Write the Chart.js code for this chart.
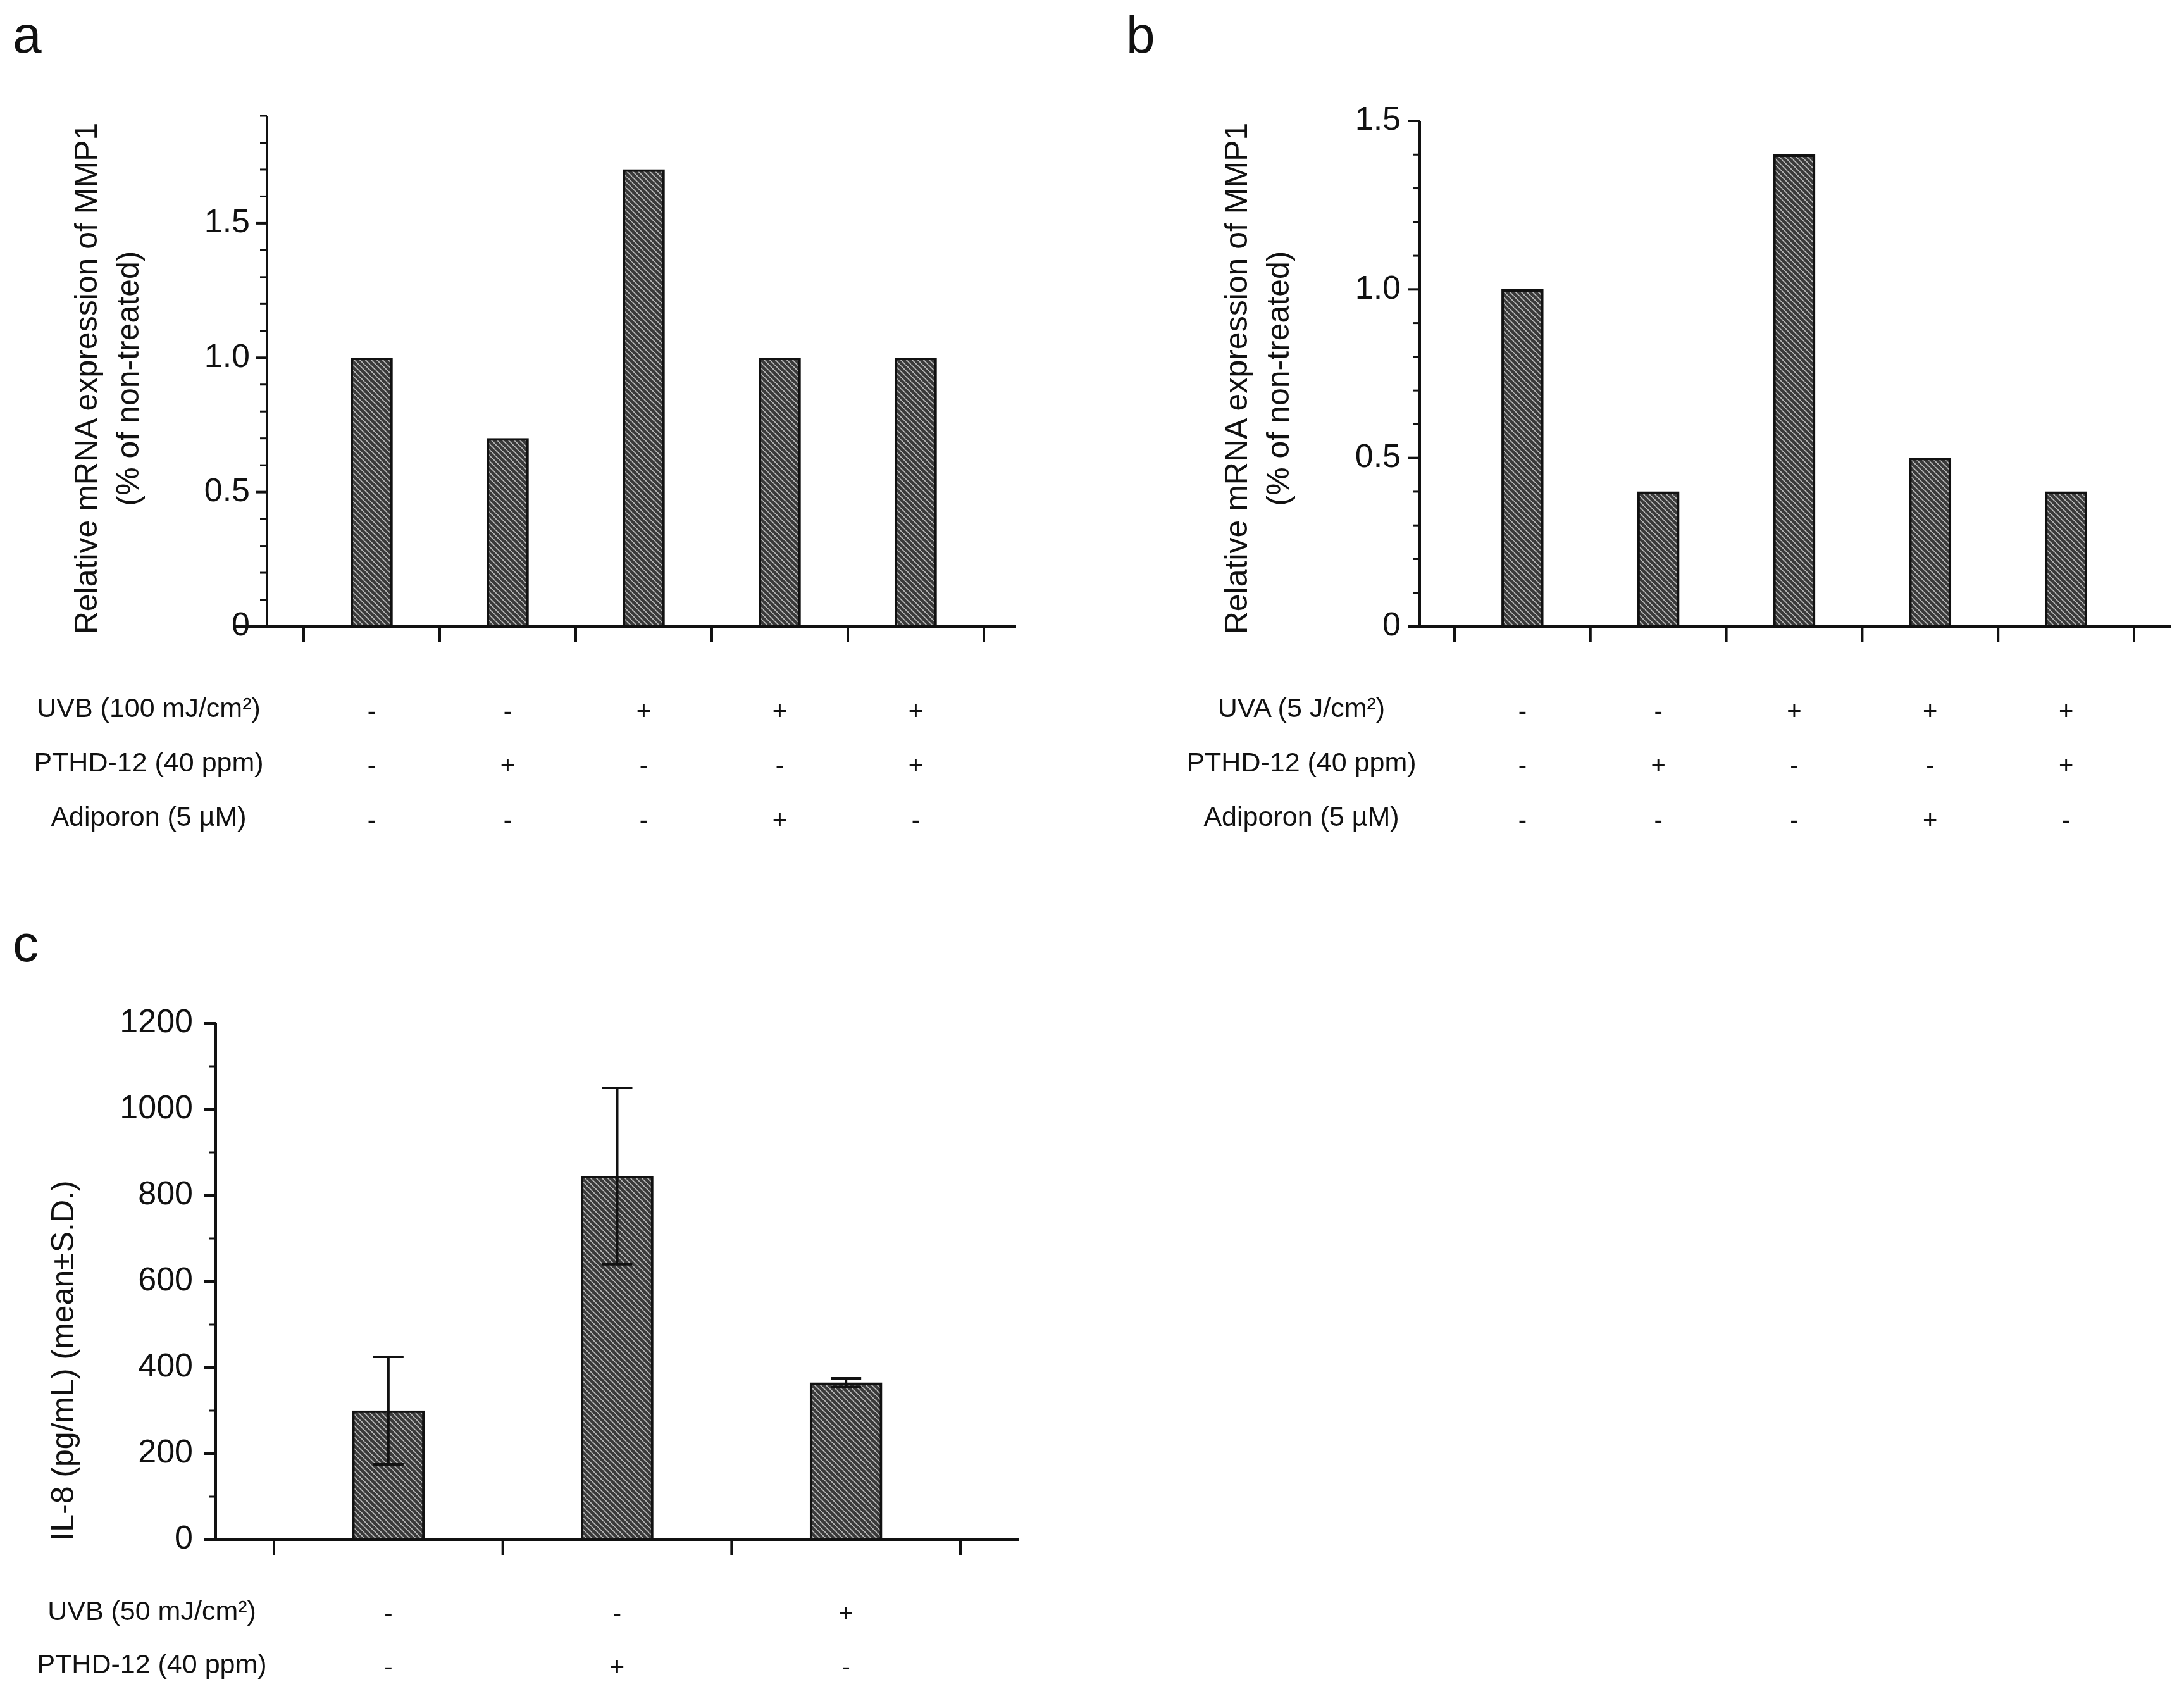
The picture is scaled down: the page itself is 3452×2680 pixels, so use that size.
<!DOCTYPE html>
<html><head><meta charset="utf-8">
<script src="https://cdn.jsdelivr.net/npm/chart.js@4.4.1/dist/chart.umd.min.js"></script>
<style>
body{margin:0;background:#fff;width:3452px;height:2680px;position:relative;overflow:hidden;font-family:"Liberation Sans",Arial,sans-serif;color:#111}
canvas{position:absolute}
.t{position:absolute;white-space:nowrap;transform:translate(-50%,-50%);font-size:43px}
.L{position:absolute;font-size:82px;line-height:1}
.yt{position:absolute;white-space:nowrap;font-size:50px;text-align:center;line-height:66px;transform:translate(-50%,-50%) rotate(-90deg)}
</style></head><body>
<div class="L" style="left:20px;top:14px">a</div>
<div class="L" style="left:1780px;top:14px">b</div>
<div class="L" style="left:20px;top:1450px">c</div>
<div class="yt" style="left:169px;top:598px">Relative mRNA expression of MMP1<br>(% of non-treated)</div>
<div class="yt" style="left:1987px;top:598px">Relative mRNA expression of MMP1<br>(% of non-treated)</div>
<div class="yt" style="left:99px;top:2150px">IL-8 (pg/mL) (mean±S.D.)</div>
<canvas id="ca" style="left:0;top:0" width="1650" height="1350"></canvas>
<canvas id="cb" style="left:1700px;top:0" width="1752" height="1350"></canvas>
<canvas id="cc" style="left:0;top:1450px" width="1700" height="1230"></canvas>
<script>
// ---- data ----
const rowsA = ["UVB (100 mJ/cm²)", "PTHD-12 (40 ppm)", "Adiporon (5 µM)"];
const uvbA = ["-", "-", "+", "+", "+"];
const pthdA = ["-", "+", "-", "-", "+"];
const adipA = ["-", "-", "-", "+", "-"];
const valuesA = [1.0, 0.7, 1.7, 1.0, 1.0];

const rowsB = ["UVA (5 J/cm²)", "PTHD-12 (40 ppm)", "Adiporon (5 µM)"];
const uvaB = ["-", "-", "+", "+", "+"];
const pthdB = ["-", "+", "-", "-", "+"];
const adipB = ["-", "-", "-", "+", "-"];
const valuesB = [1.0, 0.4, 1.4, 0.5, 0.4];

const rowsC = ["UVB (50 mJ/cm²)", "PTHD-12 (40 ppm)"];
const uvbC = ["-", "-", "+"];
const pthdC = ["-", "+", "-"];
const valuesC = [300, 845, 365];
const sdC = [125, 205, 10];

function rowNames(names, cx, y0, step, top){
  names.forEach((n,i)=>{const d=document.createElement('div');d.className='t';d.style.left=cx+'px';d.style.top=(top+y0+i*step)+'px';d.textContent=n;document.body.appendChild(d);});
}
rowNames(rowsA, 235, 1118, 86, 0);
rowNames(rowsB, 2057, 1118, 86, 0);
rowNames(rowsC, 240, 1095, 84, 1450);

function hatch(){
  const c=document.createElement('canvas');c.width=c.height=9;
  const g=c.getContext('2d');g.fillStyle='#3a3a3a';g.fillRect(0,0,9,9);
  g.strokeStyle='#bdbdbd';g.lineWidth=1.6;
  for(let k=-9;k<=9;k+=9){g.beginPath();g.moveTo(k,0);g.lineTo(k+9,9);g.stroke();}
  return g.createPattern(c,'repeat');
}

const framePlugin={id:'frame',afterDraw(chart,args,o){
  const ctx=chart.ctx,a=chart.chartArea,ys=chart.scales.y,xs=chart.scales.x;
  const x0=a.left-o.gap;ctx.save();ctx.strokeStyle='#111';ctx.lineWidth=4;ctx.lineCap='butt';
  ctx.beginPath();ctx.moveTo(x0,ys.getPixelForValue(ys.max));ctx.lineTo(x0,a.bottom);ctx.stroke();
  ctx.beginPath();ctx.moveTo(x0-o.extL,a.bottom);ctx.lineTo(a.right+o.extR,a.bottom);ctx.stroke();
  for(let v=0;v<=ys.max+1e-9;v+=o.minor){
    const major=Math.abs(v/o.major-Math.round(v/o.major))<1e-6;
    const y=ys.getPixelForValue(v);ctx.lineWidth=major?4:3;
    ctx.beginPath();ctx.moveTo(x0,y);ctx.lineTo(x0-(major?18:11),y);ctx.stroke();
  }
  const n=xs.ticks.length,w=(a.right-a.left)/n;ctx.lineWidth=4;
  for(let i=0;i<=n;i++){const x=a.left+i*w;ctx.beginPath();ctx.moveTo(x,a.bottom);ctx.lineTo(x,a.bottom+24);ctx.stroke();}
  if(o.err){
    const m=chart.getDatasetMeta(0);ctx.lineWidth=4;
    o.err.forEach((e,i)=>{const xc=m.data[i].x,v=valuesC[i];
      const yt=ys.getPixelForValue(v+e),yb=ys.getPixelForValue(v-e);
      ctx.beginPath();ctx.moveTo(xc,yt);ctx.lineTo(xc,yb);
      ctx.moveTo(xc-24,yt);ctx.lineTo(xc+24,yt);ctx.moveTo(xc-24,yb);ctx.lineTo(xc+24,yb);ctx.stroke();});
  }
  ctx.restore();
}};
Chart.register(framePlugin);

function make(id,labels,vals,opt){
  return new Chart(document.getElementById(id),{type:'bar',
    data:{labels:labels,datasets:[{data:vals,backgroundColor:hatch(),borderColor:'#111',borderWidth:4,barThickness:opt.bw,borderSkipped:'bottom'}]},
    options:{responsive:false,animation:false,devicePixelRatio:1,
      layout:{padding:{left:0,top:opt.top,right:opt.right,bottom:0}},
      plugins:{legend:{display:false},tooltip:{enabled:false},frame:opt.frame},
      scales:{
        x:{grid:{display:false},border:{display:false},
           ticks:{color:'#111',padding:opt.xpad,maxRotation:0,autoSkip:false,font:{family:'Liberation Sans',size:40,lineHeight:opt.lh+'px'}},
           afterFit:s=>{s.height=opt.xh;}},
        y:{min:0,max:opt.max,grid:{display:false},border:{display:false},
           ticks:{stepSize:opt.step,color:'#111',padding:opt.ypad,font:{family:'Liberation Sans',size:52},
             callback:v=>opt.fmt(v)},
           afterFit:s=>{s.width=opt.yw;}}
      }}});
}
const zip3=(a,b,c)=>a.map((v,i)=>[v,b[i],c[i]]);
make('ca',zip3(uvbA,pthdA,adipA),valuesA,{bw:66,top:183,right:95,xh:360,yw:480,max:1.9,step:0.5,ypad:77,xpad:85,lh:86,
  fmt:v=>v===0?'0':(Math.abs(v*2-Math.round(v*2))<1e-6?v.toFixed(1):''),frame:{gap:58,extL:52,extR:51,minor:0.1,major:0.5}});
make('cb',zip3(uvaB,pthdB,adipB),valuesB,{bw:66,top:191,right:79,xh:360,yw:599,max:1.5,step:0.5,ypad:77,xpad:85,lh:86,
  fmt:v=>v===0?'0':v.toFixed(1),frame:{gap:55,extL:0,extR:59,minor:0.1,major:0.5}});
make('cc',uvbC.map((v,i)=>[v,pthdC[i]]),valuesC,{bw:114,top:167,right:182,xh:247,yw:433,max:1200,step:200,ypad:120,xpad:69,lh:84,
  fmt:v=>String(v),frame:{gap:92,extL:0,extR:92,minor:100,major:200,err:sdC}});
</script>
</body></html>
